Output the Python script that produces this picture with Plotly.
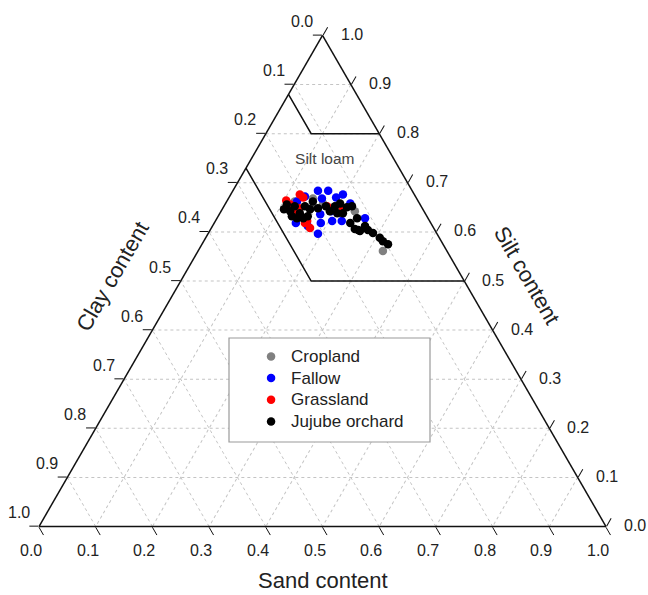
import math
import plotly.graph_objects as go

# ---------------- data (fractions) ----------------
crop_sand = [0.149, 0.172, 0.156, 0.236, 0.326, 0.208, 0.120]
crop_silt = [0.668, 0.658, 0.648, 0.642, 0.561, 0.646, 0.662]
crop_clay = [0.183, 0.170, 0.196, 0.122, 0.113, 0.146, 0.218]

fallow_sand = [0.150, 0.168, 0.165, 0.198, 0.178, 0.206, 0.194, 0.223, 0.261, 0.220, 0.124, 0.144, 0.168, 0.188, 0.194, 0.189, 0.133]
fallow_silt = [0.684, 0.684, 0.668, 0.676, 0.636, 0.622, 0.596, 0.622, 0.628, 0.658, 0.662, 0.618, 0.612, 0.618, 0.642, 0.670, 0.672]
fallow_clay = [0.166, 0.148, 0.167, 0.126, 0.186, 0.172, 0.210, 0.155, 0.111, 0.122, 0.214, 0.238, 0.220, 0.194, 0.164, 0.141, 0.195]

grass_sand = [0.122, 0.131, 0.104, 0.129, 0.162, 0.174, 0.160, 0.182, 0.212, 0.115, 0.135]
grass_silt = [0.676, 0.670, 0.664, 0.638, 0.622, 0.608, 0.618, 0.652, 0.648, 0.656, 0.648]
grass_clay = [0.202, 0.199, 0.232, 0.233, 0.216, 0.218, 0.222, 0.166, 0.140, 0.229, 0.217]

jujube_sand = [0.109, 0.122, 0.125, 0.141, 0.152, 0.141, 0.158, 0.155, 0.143, 0.130, 0.168, 0.180, 0.196, 0.202, 0.218, 0.217,
               0.226, 0.207, 0.247, 0.254, 0.265, 0.269, 0.278, 0.290, 0.307, 0.316, 0.328, 0.192, 0.109, 0.152, 0.240, 0.261]
jujube_silt = [0.656, 0.642, 0.652, 0.638, 0.628, 0.628, 0.632, 0.646, 0.652, 0.632, 0.648, 0.652, 0.652, 0.658, 0.650, 0.638,
               0.652, 0.638, 0.628, 0.606, 0.602, 0.612, 0.604, 0.598, 0.588, 0.581, 0.575, 0.642, 0.646, 0.662, 0.618, 0.604]
jujube_clay = [0.235, 0.236, 0.223, 0.221, 0.220, 0.231, 0.210, 0.199, 0.205, 0.238, 0.184, 0.168, 0.152, 0.140, 0.132, 0.145,
               0.122, 0.155, 0.125, 0.140, 0.133, 0.119, 0.118, 0.112, 0.105, 0.103, 0.097, 0.166, 0.245, 0.186, 0.142, 0.135]

# USDA silt-loam boundary (two polylines, None = break)
loam_sand = [0.00, 0.08, 0.20, None, 0.00, 0.23, 0.50]
loam_silt = [0.88, 0.80, 0.80, None, 0.73, 0.50, 0.50]
loam_clay = [0.12, 0.12, 0.00, None, 0.27, 0.27, 0.00]

label_sand = [0.131]
label_silt = [0.746]
label_clay = [0.123]
label_text = ["Silt loam"]

tick_vals = [0.0, 0.1, 0.2, 0.3, 0.4, 0.5, 0.6, 0.7, 0.8, 0.9, 1.0]
tick_text = ["0.0", "0.1", "0.2", "0.3", "0.4", "0.5", "0.6", "0.7", "0.8", "0.9", "1.0"]

series = [
    ("Cropland", crop_sand, crop_silt, crop_clay, "#808080"),
    ("Fallow", fallow_sand, fallow_silt, fallow_clay, "#0000ff"),
    ("Grassland", grass_sand, grass_silt, grass_clay, "#ff0000"),
    ("Jujube orchard", jujube_sand, jujube_silt, jujube_clay, "#000000"),
]

FONT = "Liberation Sans, Arial, sans-serif"
TXT = "#222222"

# ---------------- layout geometry ----------------
FIG_W, FIG_H = 648, 595
M_L, M_R, M_T, M_B = 39, 42, 35, 68
PLOT_W = FIG_W - M_L - M_R
PLOT_H = FIG_H - M_T - M_B
TRI_H_FRAC = (PLOT_W * math.sqrt(3) / 2) / PLOT_H   # triangle height as paper fraction
TRI_Y0 = (1 - TRI_H_FRAC) / 2                        # bottom edge in paper coords


def to_paper(sand, silt):
    """ternary (sand, silt) -> paper coords of the ternary subplot (a=silt top, c=sand right)."""
    return sand + silt / 2, TRI_Y0 + silt * TRI_H_FRAC


tick_annotations = []
for v, t in zip(tick_vals, tick_text):
    # clay along the left edge (sand = 0)
    x, y = to_paper(0.0, 1 - v)
    tick_annotations.append(dict(text=t, x=x, y=y, xshift=-20.5, yshift=14))
    # sand along the bottom edge (silt = 0)
    x, y = to_paper(v, 0.0)
    tick_annotations.append(dict(text=t, x=x, y=y, xshift=-8, yshift=-24))
    # silt along the right edge (clay = 0)
    x, y = to_paper(1 - v, v)
    tick_annotations.append(dict(text=t, x=x, y=y, xshift=29, yshift=1))
for an in tick_annotations:
    an.update(xref="paper", yref="paper", xanchor="center", yanchor="middle",
              showarrow=False, font=dict(family=FONT, size=16, color=TXT))

fig = go.Figure()

fig.add_trace(go.Scatterternary(
    a=loam_silt, b=loam_clay, c=loam_sand, mode="lines",
    line=dict(color="#111111", width=1.5), showlegend=False, hoverinfo="skip"))
fig.add_trace(go.Scatterternary(
    a=label_silt, b=label_clay, c=label_sand, mode="text", text=label_text,
    textfont=dict(family=FONT, size=15.5, color="#444444"), showlegend=False, hoverinfo="skip"))

for name, sa, si, cl, col in series:
    fig.add_trace(go.Scatterternary(
        a=si, b=cl, c=sa, mode="markers",
        name='<span style="font-size:17px">' + name + '</span>',
        marker=dict(color=col, size=8.5, line=dict(width=0))))

axis_common = dict(
    min=0, tickmode="array", tickvals=tick_vals,
    ticks="outside", ticklen=9, tickwidth=1.3, tickcolor="#111111",
    showticklabels=False,
    showgrid=True, gridcolor="#c4c4c4", gridwidth=1, griddash="dot",
    showline=True, linecolor="#111111", linewidth=1.5,
    title=dict(text=""),
)

fig.update_layout(
    width=FIG_W, height=FIG_H, autosize=False,
    margin=dict(l=M_L, r=M_R, t=M_T, b=M_B),
    paper_bgcolor="white", plot_bgcolor="white",
    template="none",
    font=dict(family=FONT, color=TXT),
    ternary=dict(
        sum=1, bgcolor="white",
        domain=dict(x=[0, 1], y=[0, 1]),
        aaxis=axis_common,
        baxis=axis_common,
        caxis=axis_common,
    ),
    showlegend=True,
    legend=dict(
        x=0.3740, y=0.379, xanchor="left", yanchor="top",
        bgcolor="rgba(0,0,0,0)", borderwidth=0,
        font=dict(family=FONT, size=14.4, color=TXT),
    ),
    shapes=[dict(type="rect", xref="paper", yref="paper",
                 x0=0.3351, x1=0.6896, y0=0.1728, y1=0.3841,
                 line=dict(color="#9a9a9a", width=1.2), fillcolor="white", layer="above")],
    annotations=[
        dict(text="Sand content", xref="paper", yref="paper", x=0.501, y=-0.108,
             xanchor="center", yanchor="middle",
             showarrow=False, font=dict(family=FONT, size=22, color=TXT)),
        dict(text="Clay content", xref="paper", yref="paper", x=0.129, y=0.510,
             xanchor="center", yanchor="middle",
             showarrow=False, textangle=-60, font=dict(family=FONT, size=22, color=TXT)),
        dict(text="Silt content", xref="paper", yref="paper", x=0.861, y=0.512,
             xanchor="center", yanchor="middle",
             showarrow=False, textangle=60, font=dict(family=FONT, size=22, color=TXT)),
    ] + tick_annotations,
)

fig.write_html("out.html",
               config={"displayModeBar": False},
               post_script="document.body.style.margin='0';document.body.style.overflow='hidden';")
